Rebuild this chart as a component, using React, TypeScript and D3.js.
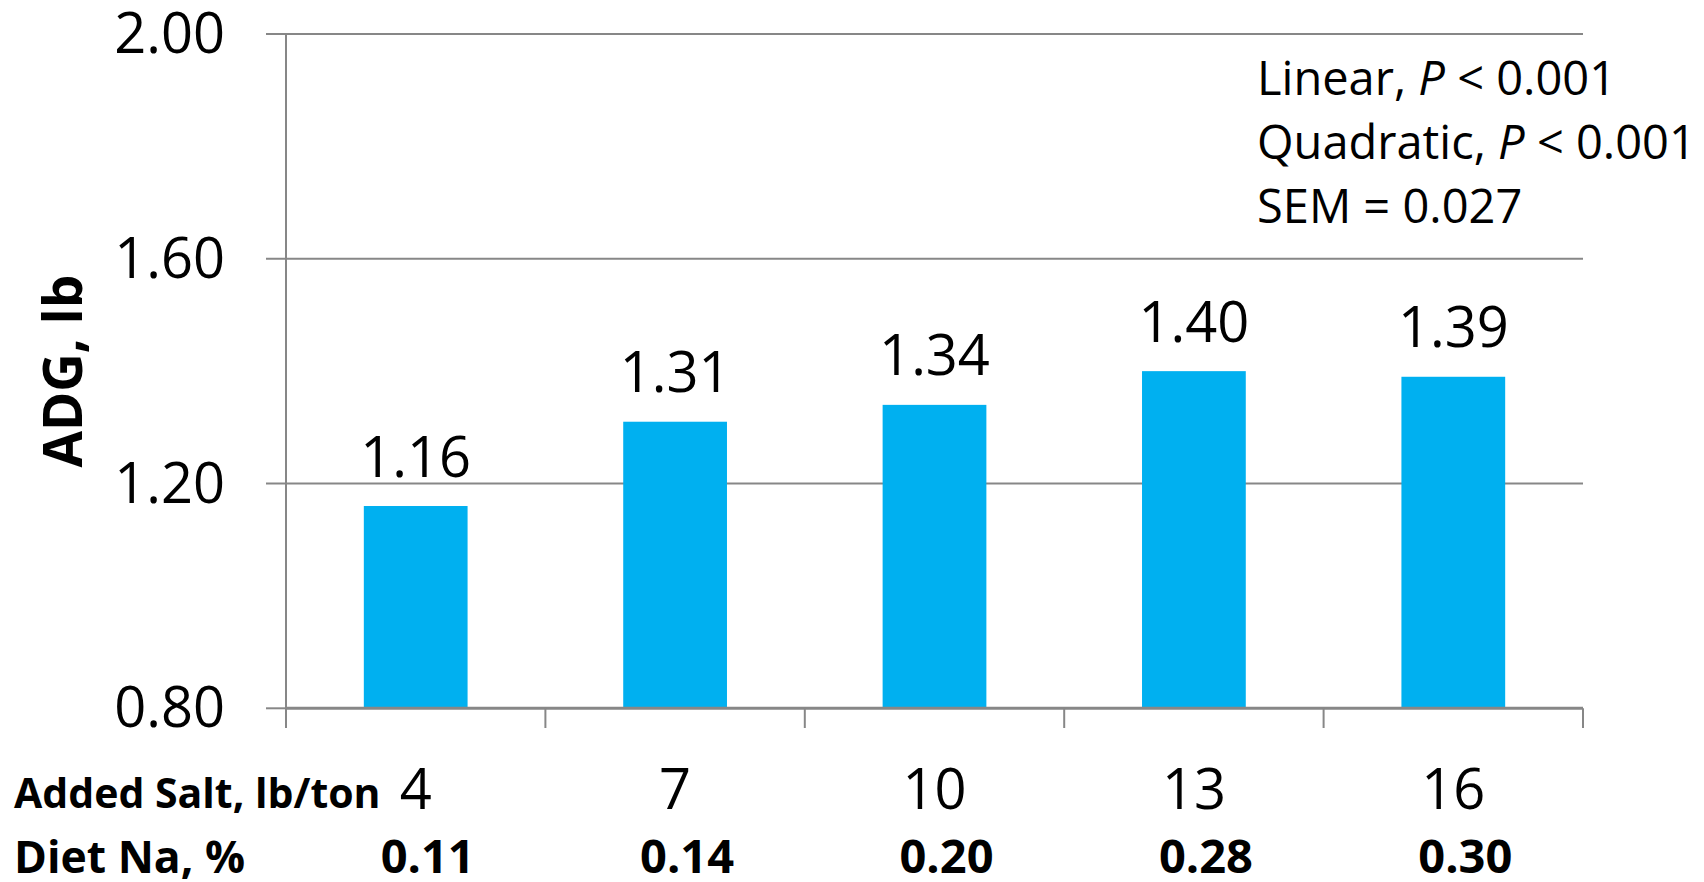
import React from "react";
import * as d3 from "d3";

const categories = ["4", "7", "10", "13", "16"];
const dietNa = ["0.11", "0.14", "0.20", "0.28", "0.30"];
const adgValues = [1.16, 1.31, 1.34, 1.4, 1.39];
const yTicks = [0.8, 1.2, 1.6, 2.0];
const annotations = [
  { pre: "Linear, ", italic: "P", post: " < 0.001" },
  { pre: "Quadratic, ", italic: "P", post: " < 0.001" },
  { pre: "SEM = 0.027", italic: "", post: "" },
];

const W = 1704;
const H = 882;
const left = 286;
const right = 1583;
const top = 34;
const bottom = 708.3;
const FONT = "'Open Sans', 'Noto Sans', sans-serif";
const GRID = "#878787";

export default function App() {
  const x = d3
    .scaleBand<string>()
    .domain(categories)
    .range([left, right])
    .paddingInner(0.6)
    .paddingOuter(0.3);
  const step = x.step();
  const y = d3.scaleLinear().domain([0.8, 2.0]).range([bottom, top]);
  const boundaries = d3.range(categories.length + 1).map((i) => left + i * step);

  return (
    <svg
      width={W}
      height={H}
      viewBox={`0 0 ${W} ${H}`}
      style={{ position: "absolute", left: 0, top: 0, background: "#fff" }}
      fontFamily={FONT}
    >
      <rect x={0} y={0} width={W} height={H} fill="#fff" />
      {/* gridlines + y ticks */}
      {yTicks.map((t) => (
        <line
          key={"g" + t}
          x1={266}
          x2={t === 0.8 ? left : right}
          y1={y(t)}
          y2={y(t)}
          stroke={GRID}
          strokeWidth={2}
        />
      ))}
      {/* bars */}
      {adgValues.map((v, i) => (
        <rect
          key={"b" + i}
          x={x(categories[i])}
          y={y(v)}
          width={x.bandwidth()}
          height={y(0.8) - y(v)}
          fill="#00B0F0"
        />
      ))}
      {/* y axis */}
      <line x1={left} x2={left} y1={top} y2={728} stroke={GRID} strokeWidth={2} />
      {/* x axis */}
      <line x1={left} x2={right} y1={bottom} y2={bottom} stroke={GRID} strokeWidth={3} />
      {boundaries.map((bx, i) => (
        <line key={"xt" + i} x1={bx} x2={bx} y1={bottom} y2={728} stroke={GRID} strokeWidth={2} />
      ))}
      {/* y tick labels */}
      {yTicks.map((t) => (
        <text key={"yl" + t} x={225} y={y(t) + 19} textAnchor="end" fontSize={56} fill="#000">
          {t.toFixed(2)}
        </text>
      ))}
      {/* value labels */}
      {adgValues.map((v, i) => (
        <text
          key={"vl" + i}
          x={(x(categories[i]) as number) + x.bandwidth() / 2}
          y={y(v) - 29.5}
          textAnchor="middle"
          fontSize={56}
          fill="#000"
        >
          {v.toFixed(2)}
        </text>
      ))}
      {/* y axis title */}
      <text
        transform={`translate(82, ${(top + bottom) / 2}) rotate(-90)`}
        textAnchor="middle"
        fontSize={53}
        fontWeight="bold"
        fill="#000"
      >
        ADG, lb
      </text>
      {/* category labels */}
      <text x={14} y={808} fontSize={41} fontWeight="bold" fill="#000">
        Added Salt, lb/ton
      </text>
      {categories.map((c) => (
        <text
          key={"c" + c}
          x={(x(c) as number) + x.bandwidth() / 2}
          y={809}
          textAnchor="middle"
          fontSize={56}
          fill="#000"
        >
          {c}
        </text>
      ))}
      <text x={14} y={873} fontSize={44.5} fontWeight="bold" fill="#000">
        Diet Na, %
      </text>
      {dietNa.map((n, i) => (
        <text
          key={"n" + i}
          x={(x(categories[i]) as number) + x.bandwidth() / 2 + 12}
          y={873}
          textAnchor="middle"
          fontSize={47}
          fontWeight="bold"
          fill="#000"
        >
          {n}
        </text>
      ))}
      {/* annotation */}
      {annotations.map((a, i) => (
        <text key={"a" + i} x={1257} y={95 + i * 63.8} fontSize={47} fill="#000">
          {a.pre}
          {a.italic ? <tspan fontStyle="italic">{a.italic}</tspan> : null}
          {a.post}
        </text>
      ))}
    </svg>
  );
}
